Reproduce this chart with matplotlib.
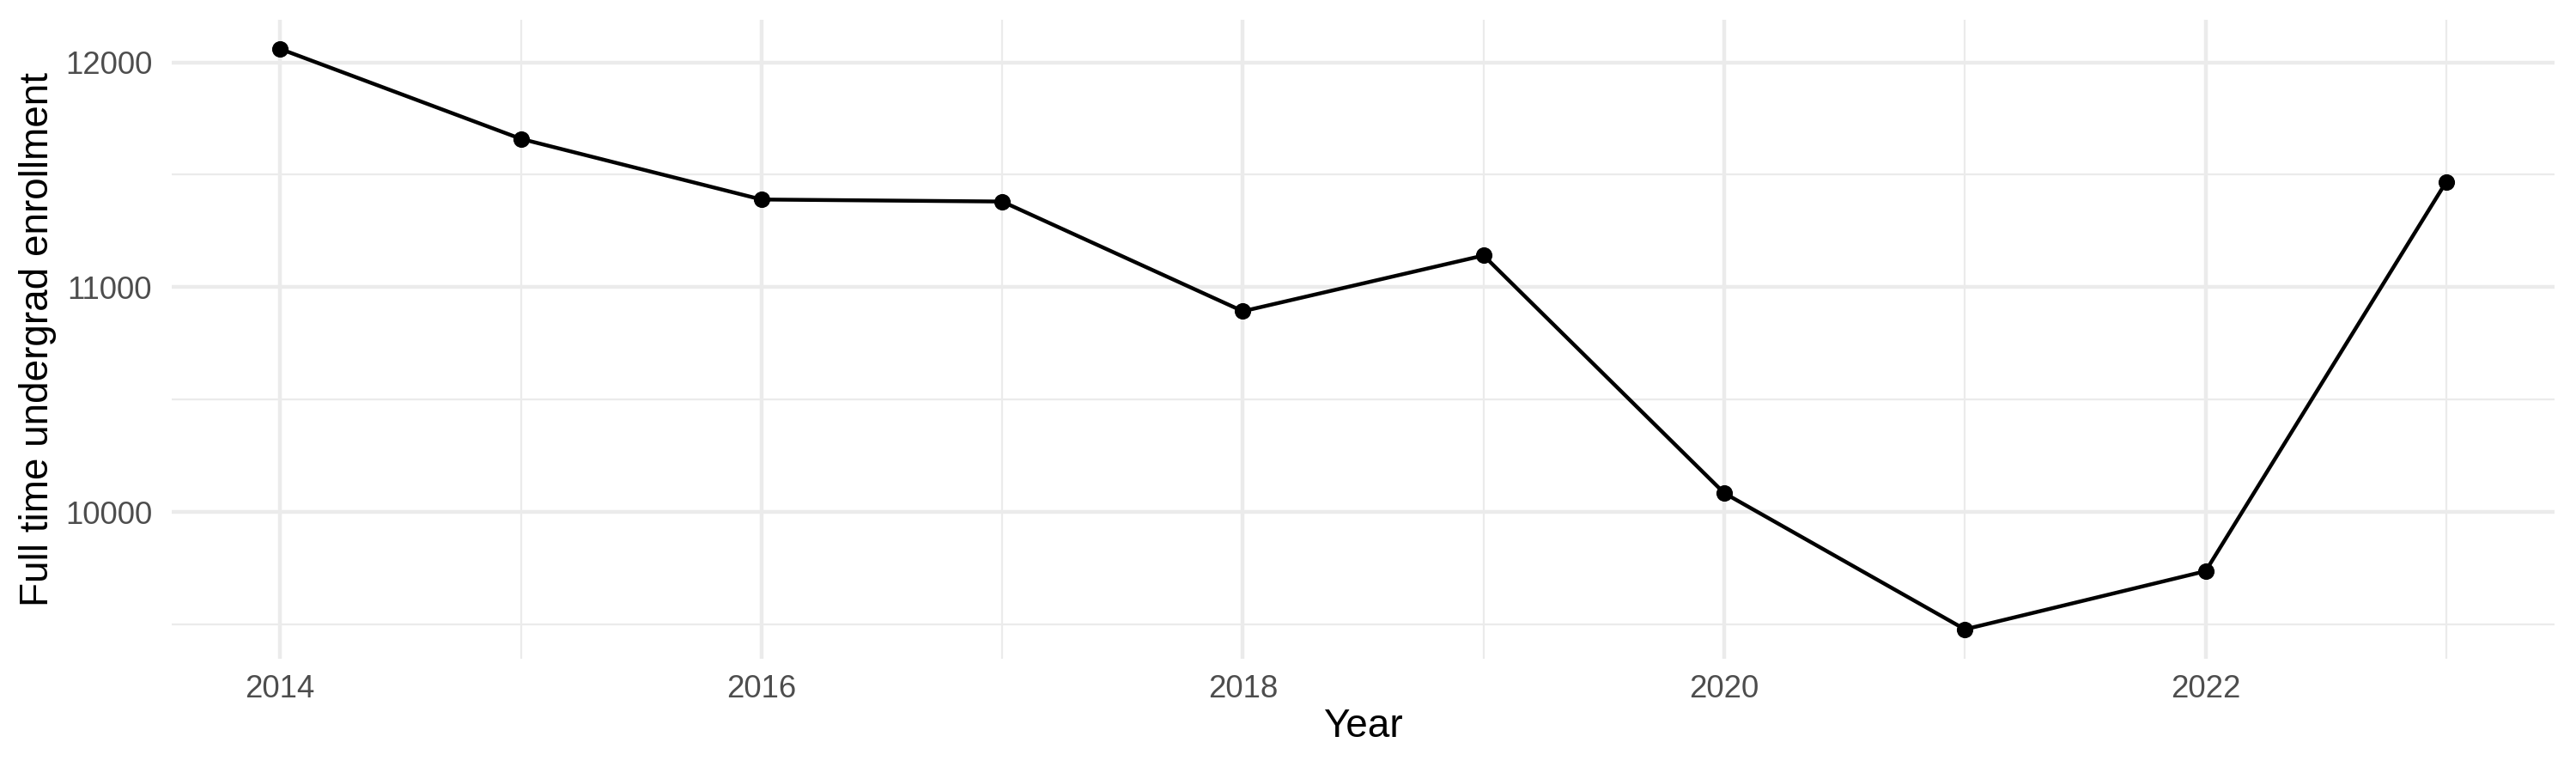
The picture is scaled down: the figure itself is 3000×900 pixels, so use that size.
import numpy as np
import matplotlib
import matplotlib.pyplot as plt

matplotlib.use('agg')

years = [2014, 2015, 2016, 2017, 2018, 2019, 2020, 2021, 2022, 2023]
enrollment = [12060, 11660, 11390, 11381, 10893, 11141, 10084, 9478, 9737, 11469]

major_x = [2014, 2016, 2018, 2020, 2022]
minor_x = [2015, 2017, 2019, 2021, 2023]
major_y = [10000, 11000, 12000]
minor_y = [9500, 10500, 11500]

plt.rcParams['font.family'] = ['Liberation Sans', 'DejaVu Sans']

fig = plt.figure(figsize=(10, 3), dpi=300)
ax = fig.add_axes([0.0667, 0.1483, 0.925, 0.826])

# ggplot-like expansion of 5%
xr = max(years) - min(years)
yr = max(enrollment) - min(enrollment)
ax.set_xlim(min(years) - 0.05 * xr, max(years) + 0.05 * xr)
ax.set_ylim(min(enrollment) - 0.05 * yr, max(enrollment) + 0.05 * yr)

ax.set_xticks(major_x)
ax.set_xticks(minor_x, minor=True)
ax.set_yticks(major_y)
ax.set_yticks(minor_y, minor=True)

ax.grid(which='major', color='#EBEBEB', linewidth=1.07)
ax.grid(which='minor', color='#EBEBEB', linewidth=0.53)
ax.set_axisbelow(True)
for s in ax.spines.values():
    s.set_visible(False)
ax.tick_params(which='both', length=0)
ax.tick_params(axis='both', labelsize=8.8, labelcolor='#4D4D4D')
ax.tick_params(axis='x', pad=4.4)
ax.tick_params(axis='y', pad=5.5)

ax.plot(years, enrollment, color='black', linewidth=1.07, zorder=3)
ax.plot(years, enrollment, 'o', color='black', markersize=4.6,
        markeredgewidth=0, zorder=4)

ax.set_xlabel('Year', fontsize=11, labelpad=1)
ax.set_ylabel('Full time undergrad enrollment', fontsize=11, labelpad=2.4)

fig.savefig('out.png', dpi=300)
